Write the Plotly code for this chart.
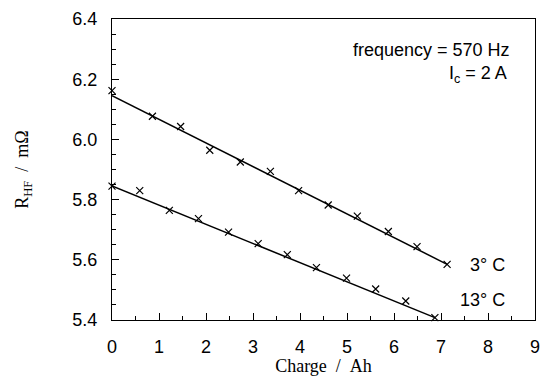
import plotly.graph_objects as go

# 3 °C data
x3 = [0.0, 0.86, 1.46, 2.08, 2.73, 3.37, 3.97, 4.60, 5.22, 5.88, 6.49, 7.13]
y3 = [6.162, 6.077, 6.043, 5.964, 5.925, 5.894, 5.830, 5.782, 5.745, 5.694, 5.644, 5.585]
# 13 °C data
x13 = [0.0, 0.59, 1.22, 1.84, 2.48, 3.11, 3.73, 4.35, 4.99, 5.61, 6.25, 6.87]
y13 = [5.845, 5.830, 5.764, 5.737, 5.692, 5.654, 5.617, 5.574, 5.539, 5.503, 5.463, 5.408]
# fitted lines (end points)
fit3_x = [0.0, 7.13]
fit3_y = [6.145, 5.585]
fit13_x = [0.0, 6.87]
fit13_y = [5.845, 5.408]

x_ticks = [0, 1, 2, 3, 4, 5, 6, 7, 8, 9]
y_ticks = [5.4, 5.6, 5.8, 6.0, 6.2, 6.4]
y_tick_text = ["5.4", "5.6", "5.8", "6.0", "6.2", "6.4"]

fig = go.Figure()
for fx, fy in [(fit3_x, fit3_y), (fit13_x, fit13_y)]:
    fig.add_trace(go.Scatter(x=fx, y=fy, mode="lines",
                             line=dict(color="black", width=1.5),
                             showlegend=False, hoverinfo="skip"))
for xs, ys in [(x3, y3), (x13, y13)]:
    fig.add_trace(go.Scatter(x=xs, y=ys, mode="markers",
                             marker=dict(symbol="x-thin-open", size=7,
                                         line=dict(color="black", width=1.2),
                                         color="black"),
                             showlegend=False, cliponaxis=False))

sans = "Liberation Sans, Arial, sans-serif"
serif = "Liberation Serif, Times New Roman, serif"
sp = "\u00a0"

L, R, T, B = 112, 5, 19, 56
W, H = 540, 376

fig.update_layout(
    width=W, height=H,
    margin=dict(l=L, r=R, t=T, b=B, autoexpand=False),
    paper_bgcolor="white", plot_bgcolor="white",
    xaxis=dict(range=[0, 9], tickvals=x_ticks, ticks="inside", ticklen=7,
               tickcolor="black", tickwidth=1, automargin=False,
               showline=True, linecolor="black", linewidth=1.2, mirror=True,
               showgrid=False, zeroline=False,
               tickfont=dict(family=sans, size=18, color="black"),
               ticklabelstandoff=10, ticklabeloverflow="allow",
               minor=dict(dtick=0.5, ticks="inside", ticklen=4,
                          tickcolor="black", showgrid=False),
               title=dict(text="Charge" + sp * 2 + "/" + sp * 2 + "Ah",
                          font=dict(family=serif, size=18, color="black"),
                          standoff=5)),
    yaxis=dict(range=[5.4, 6.4], tickvals=y_ticks, ticktext=y_tick_text,
               ticks="inside", ticklen=7,
               tickcolor="black", tickwidth=1, automargin=False,
               showline=True, linecolor="black", linewidth=1.2, mirror=True,
               showgrid=False, zeroline=False,
               tickfont=dict(family=sans, size=18, color="black"),
               ticklabelstandoff=10, ticklabeloverflow="allow",
               minor=dict(dtick=0.05, ticks="inside", ticklen=4,
                          tickcolor="black", showgrid=False),
               title=dict(text="R<sub>HF</sub>" + sp * 2 + "/" + sp * 2 + "mΩ",
                          font=dict(family=serif, size=18, color="black"),
                          standoff=38)),
)

anns = [
    ("frequency = 570 Hz", 512, 50),
    ("I<sub>c</sub> = 2 A", 509, 74),
    ("3° C", 507, 265),
    ("13° C", 507, 300),
]
for text, px, py in anns:
    fig.add_annotation(text=text, xref="paper", yref="paper",
                       x=(px - L) / (W - L - R),
                       y=1 - (py - T) / (H - T - B),
                       xanchor="right", yanchor="middle", showarrow=False,
                       font=dict(family=sans, size=18, color="black"))

fig.write_html("out.html")
